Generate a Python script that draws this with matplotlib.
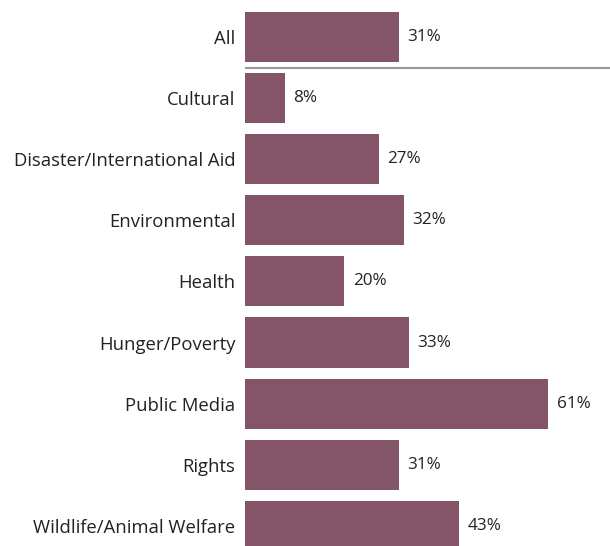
import matplotlib.pyplot as plt

# Data
categories = ['All', 'Cultural', 'Disaster/International Aid', 'Environmental',
              'Health', 'Hunger/Poverty', 'Public Media', 'Rights',
              'Wildlife/Animal Welfare']
values = [31, 8, 27, 32, 20, 33, 61, 31, 43]

bar_color = '#845569'
plt.rcParams['font.family'] = ['Open Sans', 'DejaVu Sans']

fig = plt.figure(figsize=(6.1, 5.46), dpi=100)
# axes starts where bars start (x=245px) and runs to the right edge
ax = fig.add_axes([245 / 610, 0, 1 - 245 / 610, 1])

ypos = list(range(len(categories)))
ax.barh(ypos, values, height=0.82, color=bar_color)

for y, v in zip(ypos, values):
    ax.annotate(f'{v}%', (v, y), xytext=(6, 0), textcoords='offset points',
                va='center', ha='left', fontsize=12.3, color='#222222')

ax.set_yticks(ypos)
ax.set_yticklabels(categories, fontsize=13.3, color='#222222')
ax.tick_params(axis='y', length=0, pad=7)
ax.set_xticks([])

ax.set_xlim(0, 73.4)
ax.set_ylim(8.33, -0.606)

# separator under the "All" row
ax.axhline(0.5, color='#999999', linewidth=1.5, xmin=0, xmax=1)

for s in ax.spines.values():
    s.set_visible(False)

fig.savefig('out.png', dpi=100)
